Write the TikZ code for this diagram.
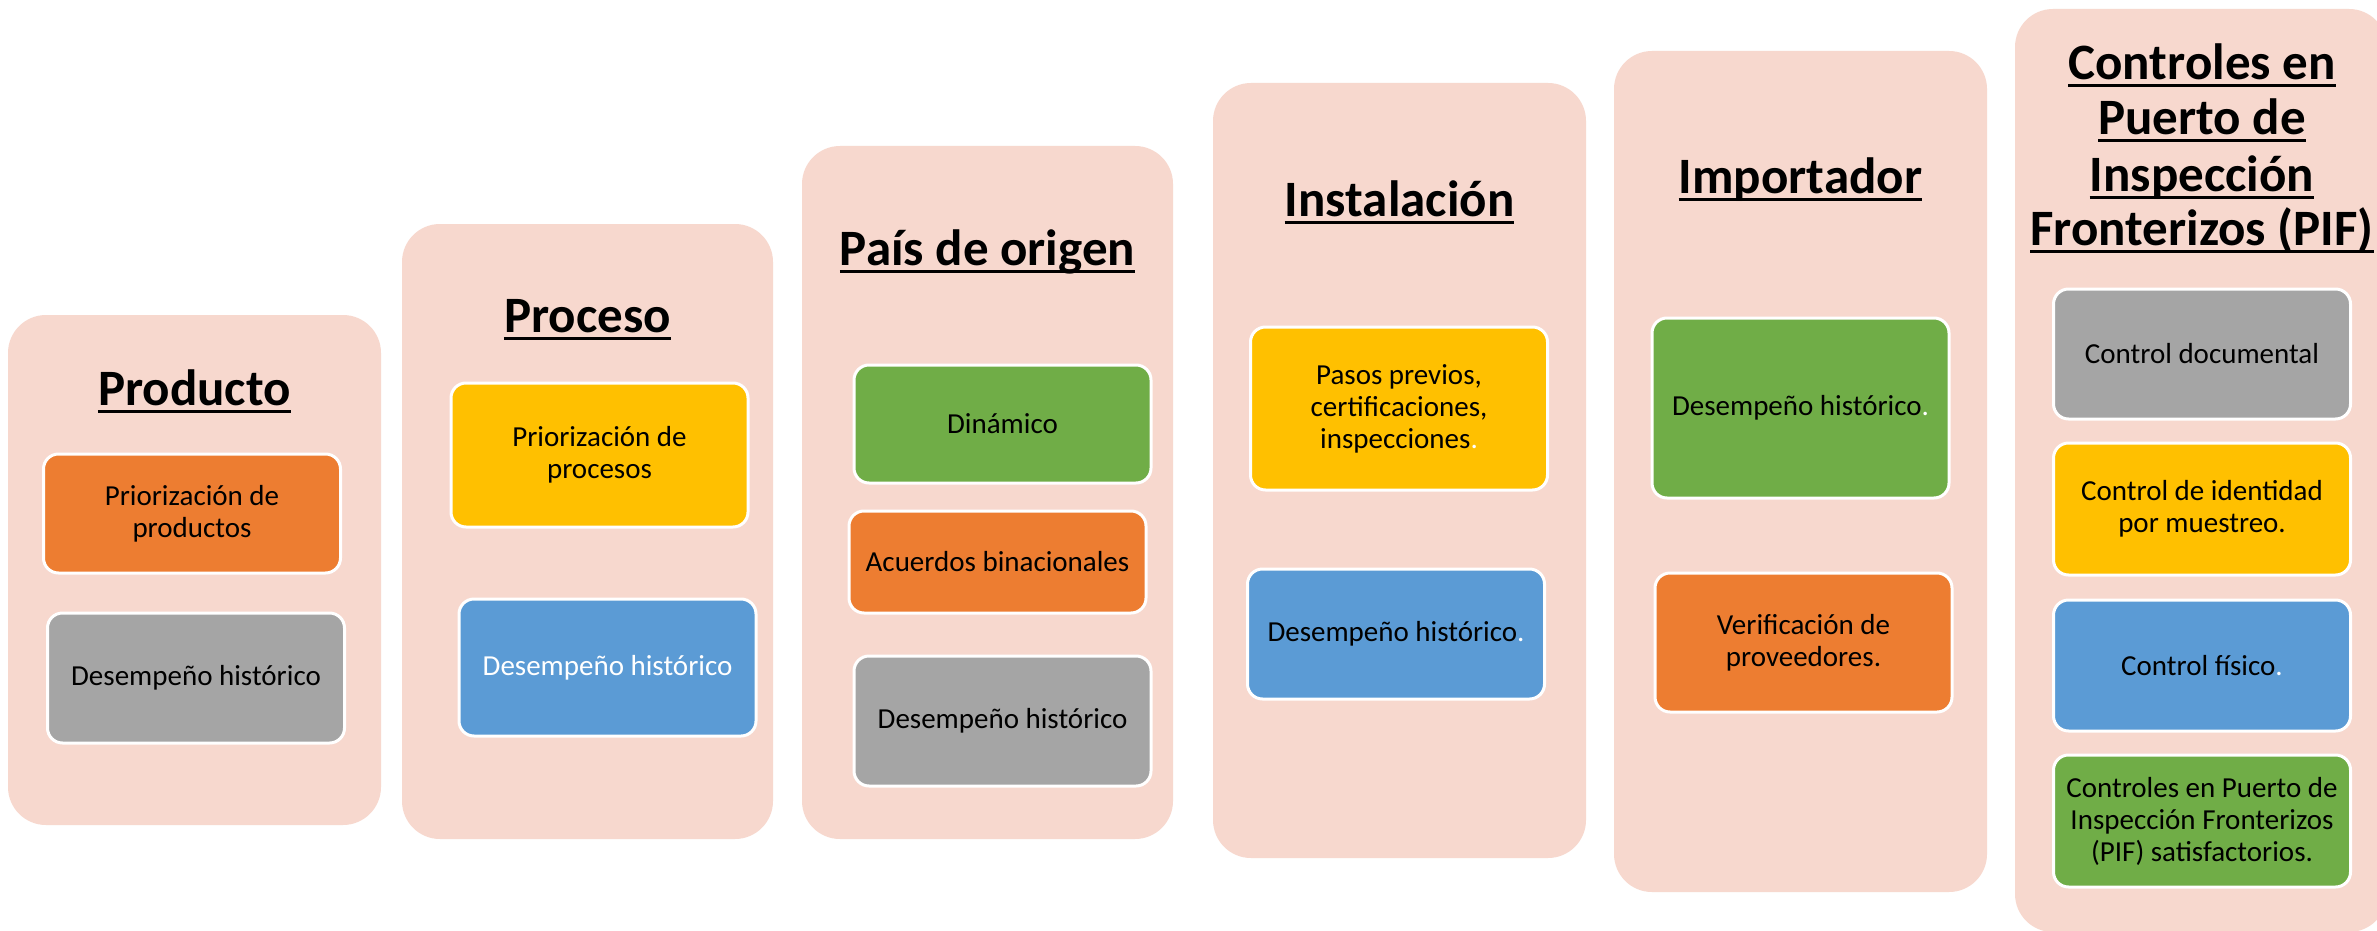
\documentclass[tikz,border=0pt]{standalone}
\usepackage{fontspec}
\setmainfont{Carlito}
\definecolor{panelC}{HTML}{F7D8CE}
\definecolor{orangeC}{HTML}{ED7D31}
\definecolor{grayC}{HTML}{A5A5A5}
\definecolor{yellowC}{HTML}{FFC000}
\definecolor{blueC}{HTML}{5B9BD5}
\definecolor{greenC}{HTML}{70AD47}
\newcommand{\mysubfont}{\fontsize{29}{32}\selectfont}
\newcommand{\myttlfont}{\fontsize{51}{55}\selectfont\bfseries}
\newcommand{\wdot}{\textcolor{white}{.}}
\tikzset{
  panel/.style={fill=panelC, draw=none, rounded corners=38pt, inner sep=0pt, outer sep=0pt},
  subbox/.style={draw=white, line width=3pt, rounded corners=15pt, align=center, font=\mysubfont, inner sep=0pt, text=black, minimum width=297pt},
  ttl/.style={font=\myttlfont, inner sep=0pt, anchor=base},
  uline/.style={line width=3pt, black}
}
\begin{document}
\begin{tikzpicture}[x=1pt,y=-1pt]
\useasboundingbox (0,0) rectangle (2377,931);
\clip (0,0) rectangle (2377,931);
\fill[white] (0,0) rectangle (2377,931);

% Panels
\node[panel, minimum width=373pt, minimum height=510pt] (p1) at (194.5,570) {};
\node[panel, minimum width=371pt, minimum height=615pt] (p2) at (587.5,531.5) {};
\node[panel, minimum width=371pt, minimum height=693pt] (p3) at (987.5,492.5) {};
\node[panel, minimum width=373pt, minimum height=775pt] (p4) at (1399.5,470.5) {};
\node[panel, minimum width=373pt, minimum height=841pt] (p5) at (1800.5,471.5) {};
\node[panel, minimum width=372pt, minimum height=923pt] (p6) at (2201,470.5) {};

% Titles
\node[ttl] (t1) at (194.5,405) {Producto};
\draw[uline] ([yshift=-6.5pt]t1.base west) -- ([yshift=-6.5pt]t1.base east);
\node[ttl] (t2) at (587.5,332) {Proceso};
\draw[uline] ([yshift=-6.5pt]t2.base west) -- ([yshift=-6.5pt]t2.base east);
\node[ttl] (t3) at (987.5,265) {País de origen};
\draw[uline] ([yshift=-6.5pt]t3.base west) -- ([yshift=-6.5pt]t3.base east);
\node[ttl] (t4) at (1399.5,216) {Instalación};
\draw[uline] ([yshift=-6.5pt]t4.base west) -- ([yshift=-6.5pt]t4.base east);
\node[ttl] (t5) at (1800.5,193) {Importador};
\draw[uline] ([yshift=-6.5pt]t5.base west) -- ([yshift=-6.5pt]t5.base east);
\node[ttl] (t6a) at (2202,80) {Controles en};
\draw[uline] ([yshift=-6pt]t6a.base west) -- ([yshift=-6pt]t6a.base east);
\node[ttl] (t6b) at (2202,135) {Puerto de};
\draw[uline] ([yshift=-6pt]t6b.base west) -- ([yshift=-6pt]t6b.base east);
\node[ttl] (t6c) at (2202,191) {Inspección};
\draw[uline] ([yshift=-6pt]t6c.base west) -- ([yshift=-6pt]t6c.base east);
\node[ttl] (t6d) at (2202,245) {Fronterizos (PIF)};
\draw[uline] ([yshift=-6pt]t6d.base west) -- ([yshift=-6pt]t6d.base east);

% Panel 1
\node[subbox, fill=orangeC, minimum height=119pt] (b1a) at (192,513.5) {Priorización de\\productos};
\node[subbox, fill=grayC, minimum height=130pt] (b1b) at (196,678) {Desempeño histórico};
% Panel 2
\node[subbox, fill=yellowC, minimum height=144pt] (b2a) at (599.5,455) {Priorización de\\procesos};
\node[subbox, fill=blueC, minimum height=137pt, text=white] (b2b) at (607.5,667.5) {Desempeño histórico};
% Panel 3
\node[subbox, fill=greenC, minimum height=118pt] (b3a) at (1002.5,424) {Dinámico};
\node[subbox, fill=orangeC, minimum height=102pt] (b3b) at (997.5,562) {Acuerdos binacionales};
\node[subbox, fill=grayC, minimum height=130pt] (b3c) at (1002.5,721) {Desempeño histórico};
% Panel 4
\node[subbox, fill=yellowC, minimum height=163pt] (b4a) at (1399,408.5) {Pasos previos,\\certificaciones,\\inspecciones\wdot};
\node[subbox, fill=blueC, minimum height=130pt] (b4b) at (1396,634) {Desempeño histórico\wdot};
% Panel 5
\node[subbox, fill=greenC, minimum height=180pt] (b5a) at (1800.5,408) {Desempeño histórico\wdot};
\node[subbox, fill=orangeC, minimum height=139pt] (b5b) at (1803.5,642.5) {Verificación de\\proveedores.};
% Panel 6
\node[subbox, fill=grayC, minimum height=130pt] (b6a) at (2202,354) {Control documental};
\node[subbox, fill=yellowC, minimum height=132pt] (b6b) at (2202,509) {Control de identidad\\por muestreo.};
\node[subbox, fill=blueC, minimum height=131pt] (b6c) at (2202,665.5) {Control físico\wdot};
\node[subbox, fill=greenC, minimum height=132pt] (b6d) at (2202,821) {Controles en Puerto de\\Inspección Fronterizos\\(PIF) satisfactorios.};
\end{tikzpicture}
\end{document}
